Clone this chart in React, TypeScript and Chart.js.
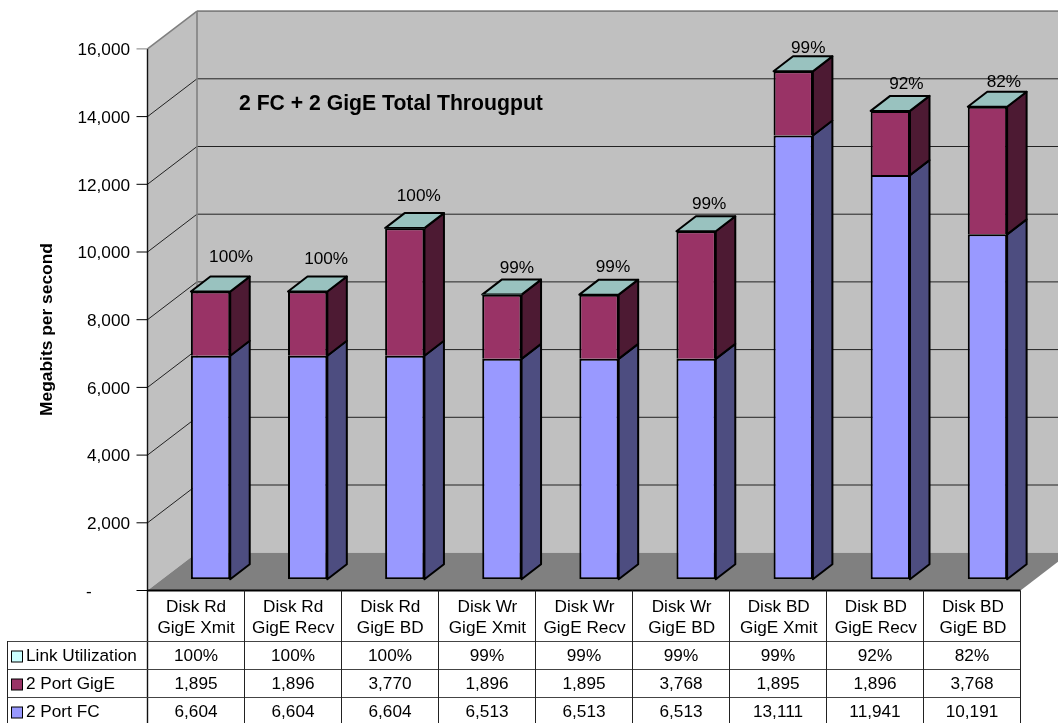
import React, { useEffect, useRef } from "react";
import { Chart, registerables } from "chart.js";

Chart.register(...registerables);

const categories = [
  ["Disk Rd", "GigE Xmit"],
  ["Disk Rd", "GigE Recv"],
  ["Disk Rd", "GigE BD"],
  ["Disk Wr", "GigE Xmit"],
  ["Disk Wr", "GigE Recv"],
  ["Disk Wr", "GigE BD"],
  ["Disk BD", "GigE Xmit"],
  ["Disk BD", "GigE Recv"],
  ["Disk BD", "GigE BD"],
];
const portFC = [6604, 6604, 6604, 6513, 6513, 6513, 13111, 11941, 10191];
const portGigE = [1895, 1896, 3770, 1896, 1895, 3768, 1895, 1896, 3768];
const linkUtilization = [1, 1, 1, 0.99, 0.99, 0.99, 0.99, 0.92, 0.82];

const chartTitle = "2 FC + 2 GigE Total Througput";
const axisTitle = "Megabits per second";

// Hand placement of the percentage labels above each column (dx, dy from the column's top).
const labelNudgeX = [20.5, 18.5, 14, 15, 14, 13, 15, 16, 16.5];
const labelNudgeY = [-34, -32, -32, -26, -27, -27, -23, -27, -25];

const FONT = '"Liberation Sans", Arial, sans-serif';
const TEXT_SIZE = 17.2;
const WIDTH = 1058;
const HEIGHT = 723;

// Front face of the box relative to the scale, and the depth of walls and columns.
const FLOOR_DROP = 11.2;
const WALL_DX = 49.5;
const WALL_DY = 37.8;
const BAR_DX = 19.5;
const BAR_DY = 15;
const BAR_LINE = 2;
const FRONT_X = 147.5;
const CELL_W = 97;
const TABLE_LEFT = 7.5;
const HEADER_BOTTOM = 641;
const ROW_H = 28;
const CANVAS_PAST = 1080;

const COLORS = {
  wall: "#C0C0C0",
  floor: "#808080",
  wallEdge: "#808080",
  fc: "#9999FF",
  fcSide: "#4D4D80",
  gige: "#993366",
  gigeSide: "#4D1A33",
  link: "#CCFFFF",
  linkTop: "#99C2BF",
};

const poly = (ctx: CanvasRenderingContext2D, pts: number[][], fill?: string) => {
  ctx.beginPath();
  pts.forEach(([x, y], i) => (i ? ctx.lineTo(x, y) : ctx.moveTo(x, y)));
  ctx.closePath();
  if (fill) {
    ctx.fillStyle = fill;
    ctx.fill();
  }
};

const line = (ctx: CanvasRenderingContext2D, x0: number, y0: number, x1: number, y1: number) => {
  ctx.beginPath();
  ctx.moveTo(x0, y0);
  ctx.lineTo(x1, y1);
  ctx.stroke();
};

// Walls, floor and gridlines behind the columns, plus side faces of each column.
const boxPlugin = {
  id: "box3d",
  beforeDatasetsDraw(chart: any) {
    const { ctx, scales } = chart;
    const y = scales.y;
    const frontY = (v: number) => y.getPixelForValue(v) + FLOOR_DROP;
    const top = frontY(16000);
    const bottom = frontY(0);
    const backX = FRONT_X + WALL_DX;
    const frontRight = FRONT_X + CELL_W * 9;
    ctx.save();

    poly(ctx, [[backX, top - WALL_DY], [CANVAS_PAST, top - WALL_DY], [CANVAS_PAST, bottom - WALL_DY], [backX, bottom - WALL_DY]], COLORS.wall);
    poly(ctx, [[FRONT_X, top], [backX, top - WALL_DY], [backX, bottom - WALL_DY], [FRONT_X, bottom]], COLORS.wall);
    poly(ctx, [[FRONT_X, bottom], [backX, bottom - WALL_DY], [frontRight + WALL_DX, bottom - WALL_DY], [frontRight, bottom]], COLORS.floor);

    ctx.strokeStyle = "#222222";
    ctx.lineWidth = 1;
    y.ticks.forEach((t: any) => {
      if (t.value === 0 || t.value === 16000) return;
      const fy = frontY(t.value);
      line(ctx, FRONT_X, fy, backX, fy - WALL_DY);
      line(ctx, backX, fy - WALL_DY, CANVAS_PAST, fy - WALL_DY);
    });

    ctx.strokeStyle = COLORS.wallEdge;
    ctx.lineWidth = 1.6;
    line(ctx, FRONT_X, top, backX, top - WALL_DY);
    line(ctx, backX, top - WALL_DY, CANVAS_PAST, top - WALL_DY);
    line(ctx, backX, top - WALL_DY, backX, bottom - WALL_DY);

    // Side and top faces of the stacks
    ctx.lineJoin = "round";
    const stacks = [
      { meta: chart.getDatasetMeta(0), side: COLORS.fcSide },
      { meta: chart.getDatasetMeta(1), side: COLORS.gigeSide },
    ];
    stacks.forEach(({ meta, side }) => {
      meta.data.forEach((bar: any) => {
        const r = bar.x + bar.width / 2;
        ctx.strokeStyle = "#000000";
        ctx.lineWidth = BAR_LINE;
        poly(ctx, [[r, bar.y], [r + BAR_DX, bar.y - BAR_DY], [r + BAR_DX, bar.base - BAR_DY], [r, bar.base]], side);
        ctx.stroke();
      });
    });
    chart.getDatasetMeta(2).data.forEach((bar: any) => {
      const l = bar.x - bar.width / 2;
      const r = bar.x + bar.width / 2;
      ctx.strokeStyle = "#000000";
      ctx.lineWidth = BAR_LINE;
      poly(ctx, [[l, bar.y], [l + BAR_DX, bar.y - BAR_DY], [r + BAR_DX, bar.y - BAR_DY], [r, bar.y]], COLORS.linkTop);
      ctx.stroke();
    });
    ctx.restore();
  },

  afterDraw(chart: any) {
    const { ctx, scales } = chart;
    const y = scales.y;
    const bottom = y.getPixelForValue(0) + FLOOR_DROP;
    const right = FRONT_X + CELL_W * 9;
    ctx.save();

    // Value axis and tick marks
    ctx.strokeStyle = "#111111";
    ctx.lineWidth = 1.4;
    line(ctx, FRONT_X, y.getPixelForValue(16000) + FLOOR_DROP, FRONT_X, HEIGHT);
    ctx.lineWidth = 1;
    y.ticks.forEach((t: any) => {
      const fy = y.getPixelForValue(t.value) + FLOOR_DROP;
      ctx.strokeStyle = t.value === 16000 ? COLORS.wallEdge : "#000000";
      line(ctx, FRONT_X - 11, fy, FRONT_X, fy);
    });

    // Data table grid
    ctx.strokeStyle = "#000000";
    ctx.lineWidth = 2;
    line(ctx, FRONT_X, bottom, right, bottom);
    ctx.lineWidth = 1;
    ctx.strokeStyle = "#444444";
    for (let r = 0; r < 3; r++) {
      const ry = HEADER_BOTTOM + r * ROW_H + 0.5;
      line(ctx, TABLE_LEFT, ry, right, ry);
    }
    ctx.strokeStyle = "#222222";
    line(ctx, TABLE_LEFT, HEADER_BOTTOM, TABLE_LEFT, HEIGHT);
    for (let c = 1; c <= 9; c++) {
      const cx = FRONT_X + c * CELL_W;
      line(ctx, cx, bottom, cx, HEIGHT);
    }

    // Table rows, top to bottom, each with its legend key
    const rows = [
      { name: "Link Utilization", key: COLORS.link, cells: linkUtilization.map((v) => `${Math.round(v * 100)}%`) },
      { name: "2 Port GigE", key: COLORS.gige, cells: portGigE.map((v) => v.toLocaleString("en-US")) },
      { name: "2 Port FC", key: COLORS.fc, cells: portFC.map((v) => v.toLocaleString("en-US")) },
    ];
    ctx.font = `${TEXT_SIZE}px ${FONT}`;
    ctx.textBaseline = "middle";
    rows.forEach((row, r) => {
      const cy = HEADER_BOTTOM + r * ROW_H + ROW_H / 2 + 1.5;
      ctx.fillStyle = row.key;
      ctx.fillRect(11.5, cy - 5.5, 11, 11);
      ctx.strokeStyle = "#000000";
      ctx.lineWidth = 1;
      ctx.strokeRect(11.5, cy - 5.5, 11, 11);
      ctx.fillStyle = "#000000";
      ctx.textAlign = "left";
      ctx.fillText(row.name, 26, cy);
      ctx.textAlign = "center";
      row.cells.forEach((cell, c) => ctx.fillText(cell, FRONT_X + (c + 0.5) * CELL_W, cy));
    });

    // Percentage labels above the columns
    chart.getDatasetMeta(2).data.forEach((bar: any, i: number) => {
      ctx.fillStyle = "#000000";
      ctx.fillText(
        `${Math.round(linkUtilization[i] * 100)}%`,
        bar.x + labelNudgeX[i],
        bar.y + labelNudgeY[i]
      );
    });

    // Chart title and rotated axis title
    ctx.font = `bold 21.2px ${FONT}`;
    ctx.textAlign = "left";
    ctx.fillText(chartTitle, 239, 104);
    ctx.translate(47, 329.5);
    ctx.rotate(-Math.PI / 2);
    ctx.font = `bold 17.4px ${FONT}`;
    ctx.textAlign = "center";
    ctx.fillText(axisTitle, 0, 0);
    ctx.restore();
  },
};

export default function App() {
  const ref = useRef<HTMLCanvasElement | null>(null);

  useEffect(() => {
    if (!ref.current) return;
    const barShare = Math.sqrt(0.405);
    const barStyle = {
      borderColor: "#000000",
      barPercentage: barShare,
      categoryPercentage: barShare,
    };
    const chart = new Chart(ref.current, {
      type: "bar",
      data: {
        labels: categories,
        datasets: [
          { label: "2 Port FC", data: portFC, backgroundColor: COLORS.fc, borderWidth: BAR_LINE, borderSkipped: false, ...barStyle },
          // The shared edge with the segment below is stroked only once.
          { label: "2 Port GigE", data: portGigE, backgroundColor: COLORS.gige, borderWidth: BAR_LINE, borderSkipped: "bottom", ...barStyle },
          { label: "Link Utilization", data: linkUtilization, backgroundColor: COLORS.link, borderWidth: 0, ...barStyle },
        ],
      },
      options: {
        animation: false,
        responsive: false,
        layout: { padding: { top: 37.7, left: 0, right: WIDTH - 1036, bottom: 0 } },
        plugins: { legend: { display: false }, title: { display: false }, tooltip: { enabled: false } },
        scales: {
          x: {
            stacked: true,
            grid: { display: false, drawTicks: false },
            border: { display: false },
            afterFit: (s: any) => {
              s.height = HEIGHT - 579.3;
            },
            ticks: {
              autoSkip: false,
              maxRotation: 0,
              minRotation: 0,
              labelOffset: -14.5,
              padding: 17,
              color: "#000000",
              font: { family: FONT, size: TEXT_SIZE, lineHeight: 1.25 },
            },
          },
          y: {
            stacked: true,
            min: 0,
            max: 16000,
            grid: { display: false, drawTicks: false },
            border: { display: false },
            afterFit: (s: any) => {
              // Tick padding must only move the labels, not shrink the plot height.
              s.width = 162;
              s.paddingTop = 0;
              s.paddingBottom = 0;
            },
            ticks: {
              stepSize: 2000,
              padding: 32,
              labelOffset: FLOOR_DROP + 1.5,
              color: "#000000",
              font: { family: FONT, size: TEXT_SIZE },
              callback: (v: any) =>
                v === 0 ? "-\u00A0\u00A0\u00A0\u00A0\u00A0\u00A0\u00A0\u00A0" : Number(v).toLocaleString("en-US"),
            },
          },
        },
      },
      plugins: [boxPlugin],
    } as any);
    return () => chart.destroy();
  }, []);

  return (
    <div style={{ position: "absolute", left: 0, top: 0, width: WIDTH, height: HEIGHT }}>
      <canvas ref={ref} width={WIDTH} height={HEIGHT} style={{ display: "block" }} />
    </div>
  );
}
